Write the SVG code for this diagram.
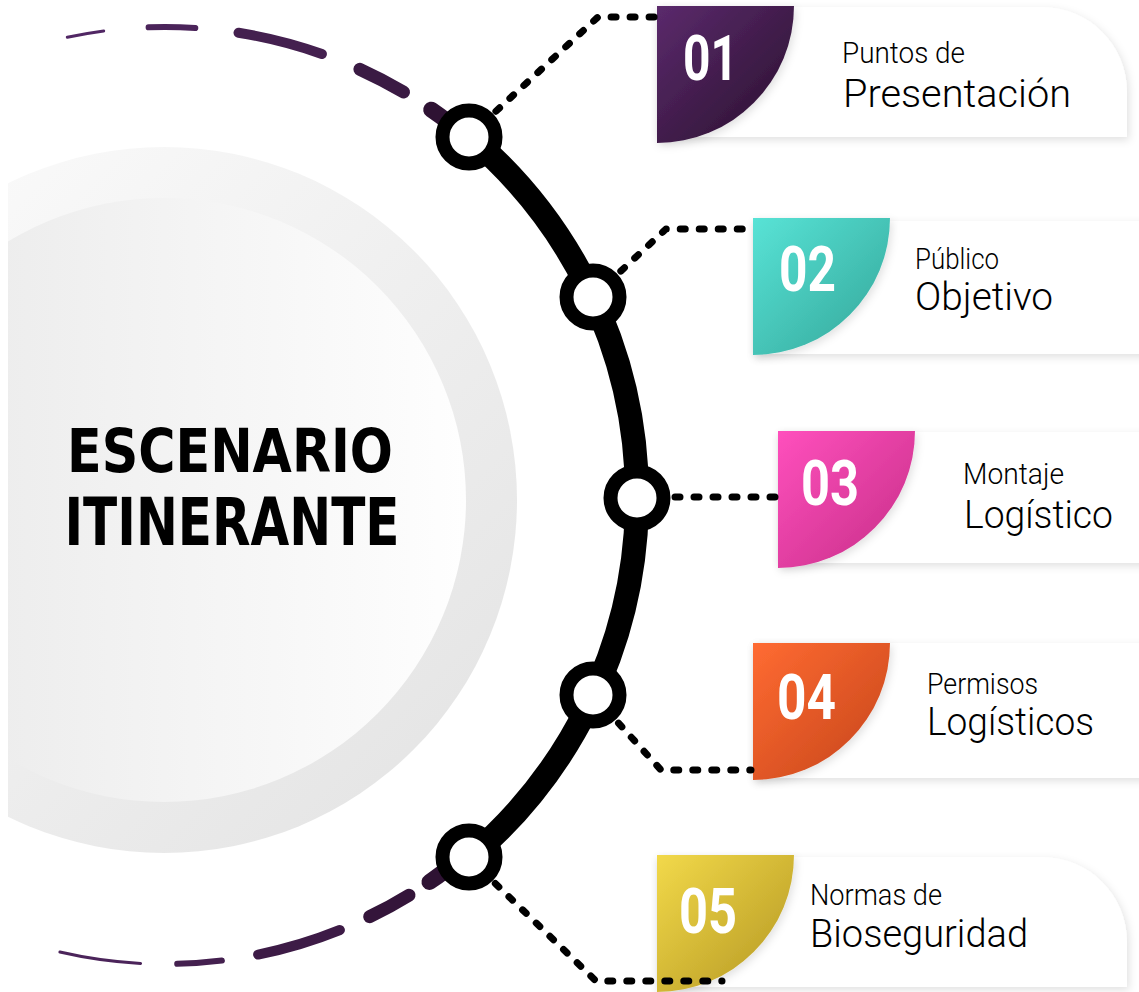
<svg xmlns="http://www.w3.org/2000/svg" width="1139" height="992" viewBox="0 0 1139 992">
<style>
.dash{fill:none;stroke-linecap:round}
.conn{fill:none;stroke:#000;stroke-width:7;stroke-dasharray:5 14;stroke-linecap:round;stroke-linejoin:round}
.node{fill:#fff;stroke:#000;stroke-width:14}
.num{font-family:Roboto,"Liberation Sans",sans-serif;font-weight:bold;font-size:63px;fill:#fff}
.sm{font-family:Roboto,"Liberation Sans",sans-serif;font-weight:300;font-size:29px;fill:#000}
.lg{font-family:Roboto,"Liberation Sans",sans-serif;font-weight:300;font-size:39px;fill:#000}
.title{font-family:"DejaVu Sans",sans-serif;font-weight:bold;fill:#000}
.panel{fill:#fff;filter:url(#sh)}
</style>
<defs>
<filter id="sh" x="-10%" y="-20%" width="120%" height="150%">
<feDropShadow dx="2" dy="3" stdDeviation="4" flood-color="#000" flood-opacity="0.12"/>
</filter>
<linearGradient id="gOuter" x1="0" y1="0" x2="1" y2="1"><stop offset="0" stop-color="#fdfdfd"/><stop offset="1" stop-color="#e2e2e2"/></linearGradient>
<linearGradient id="gInner" x1="0" y1="0" x2="1" y2="0"><stop offset="0" stop-color="#e8e8e8"/><stop offset="1" stop-color="#fefefe"/></linearGradient>
<linearGradient id="g1" x1="0" y1="0" x2="1" y2="1"><stop offset="0" stop-color="#5b2a6c"/><stop offset="1" stop-color="#28102c"/></linearGradient>
<linearGradient id="g2" x1="0" y1="0" x2="1" y2="1"><stop offset="0" stop-color="#58e3d6"/><stop offset="1" stop-color="#33a598"/></linearGradient>
<linearGradient id="g3" x1="0" y1="0" x2="1" y2="1"><stop offset="0" stop-color="#ff50bd"/><stop offset="1" stop-color="#c52d86"/></linearGradient>
<linearGradient id="g4" x1="0" y1="0" x2="1" y2="1"><stop offset="0" stop-color="#ff6b32"/><stop offset="1" stop-color="#c4441a"/></linearGradient>
<linearGradient id="g5" x1="0" y1="0" x2="1" y2="1"><stop offset="0" stop-color="#f2d94a"/><stop offset="1" stop-color="#b39621"/></linearGradient>
<clipPath id="clipL"><rect x="8" y="0" width="1131" height="992"/></clipPath>
</defs>

<g id="background" clip-path="url(#clipL)">
<circle cx="164" cy="500" r="353" fill="url(#gOuter)"/>
<circle cx="164" cy="500" r="302" fill="url(#gInner)"/>
</g>

<g id="title">
<text class="title" x="230" y="472" font-size="61" text-anchor="middle" textLength="326" lengthAdjust="spacingAndGlyphs">ESCENARIO</text>
<text class="title" x="232" y="545" font-size="66" text-anchor="middle" textLength="335" lengthAdjust="spacingAndGlyphs">ITINERANTE</text>
</g>

<g id="arc-dashes">
<path class="dash" d="M67.3 37.3 A470 470 0 0 1 103.7 31" stroke="#512764" stroke-width="3"/>
<path class="dash" d="M148.6 27.3 A470 470 0 0 1 195.3 28" stroke="#4b245a" stroke-width="6"/>
<path class="dash" d="M238.5 32.8 A470 470 0 0 1 321.9 54" stroke="#44204f" stroke-width="10"/>
<path class="dash" d="M359.9 69.3 A470 470 0 0 1 403.5 92" stroke="#3a1a43" stroke-width="13"/>
<path class="dash" d="M431.2 109.7 A470 470 0 0 1 447.8 121.7" stroke="#2e1233" stroke-width="16"/>
<path class="dash" d="M446.1 870 A467 467 0 0 1 429.5 882" stroke="#2e1233" stroke-width="16"/>
<path class="dash" d="M409 895.2 A467 467 0 0 1 369.7 916.7" stroke="#34153a" stroke-width="13"/>
<path class="dash" d="M339.9 930 A467 467 0 0 1 258.1 954.6" stroke="#3d1b46" stroke-width="10"/>
<path class="dash" d="M221.9 960.5 A467 467 0 0 1 177.2 963.8" stroke="#44204f" stroke-width="6"/>
<path class="dash" d="M140.6 963.4 A467 467 0 0 1 59.9 952" stroke="#4b245a" stroke-width="3"/>
</g>

<g id="spine">
<path d="M468.4 135.4 A472 472 0 0 1 468.4 858.6" fill="none" stroke="#000" stroke-width="24"/>
</g>

<g id="card1">
<path class="panel" d="M657 7 H1042 A85 85 0 0 1 1127 92 V137 H657 Z"/>
<path d="M657 6 H794 A137 137 0 0 1 657 143 Z" fill="url(#g1)" filter="url(#sh)"/>
<text class="num" x="683" y="80" textLength="55" lengthAdjust="spacingAndGlyphs">01</text>
<text class="sm" x="842" y="63" textLength="123" lengthAdjust="spacingAndGlyphs">Puntos de</text>
<text class="lg" x="843" y="107" textLength="228" lengthAdjust="spacingAndGlyphs">Presentación</text>
</g>

<g id="card2">
<rect class="panel" x="753" y="221" width="400" height="133"/>
<path d="M753 218 H890 A137 137 0 0 1 753 355 Z" fill="url(#g2)" filter="url(#sh)"/>
<text class="num" x="779" y="291" textLength="57" lengthAdjust="spacingAndGlyphs">02</text>
<text class="sm" x="915" y="269" textLength="84" lengthAdjust="spacingAndGlyphs">Público</text>
<text class="lg" x="915" y="310" textLength="138" lengthAdjust="spacingAndGlyphs">Objetivo</text>
</g>

<g id="card3">
<rect class="panel" x="778" y="432" width="380" height="131"/>
<path d="M778 431 H915 A137 137 0 0 1 778 568 Z" fill="url(#g3)" filter="url(#sh)"/>
<text class="num" x="801" y="505" textLength="58" lengthAdjust="spacingAndGlyphs">03</text>
<text class="sm" x="963" y="484" textLength="101" lengthAdjust="spacingAndGlyphs">Montaje</text>
<text class="lg" x="964" y="528" textLength="149" lengthAdjust="spacingAndGlyphs">Logístico</text>
</g>

<g id="card4">
<rect class="panel" x="753" y="643" width="400" height="135"/>
<path d="M753 643 H890 A137 137 0 0 1 753 780 Z" fill="url(#g4)" filter="url(#sh)"/>
<text class="num" x="777" y="719" textLength="59" lengthAdjust="spacingAndGlyphs">04</text>
<text class="sm" x="927" y="694" textLength="111" lengthAdjust="spacingAndGlyphs">Permisos</text>
<text class="lg" x="927" y="735" textLength="167" lengthAdjust="spacingAndGlyphs">Logísticos</text>
</g>

<g id="card5">
<path class="panel" d="M657 857 H1042 A85 85 0 0 1 1127 942 V987 H657 Z"/>
<path d="M657 855 H794 A137 137 0 0 1 657 992 Z" fill="url(#g5)" filter="url(#sh)"/>
<text class="num" x="679" y="933" textLength="58" lengthAdjust="spacingAndGlyphs">05</text>
<text class="sm" x="810" y="905" textLength="132" lengthAdjust="spacingAndGlyphs">Normas de</text>
<text class="lg" x="810" y="947" textLength="218" lengthAdjust="spacingAndGlyphs">Bioseguridad</text>
</g>

<g id="connectors">
<path class="conn" d="M468 137 L598 17 L655 17"/>
<path class="conn" d="M593 297 L666 229 L751 229"/>
<path class="conn" d="M637 497 L776 497"/>
<path class="conn" d="M593 695 L661 770 L751 770"/>
<path class="conn" d="M468 857 L596 981 L722 981"/>
</g>

<g id="nodes">
<circle id="node1" class="node" cx="469" cy="137" r="26.5"/>
<circle id="node2" class="node" cx="593" cy="297" r="26.5"/>
<circle id="node3" class="node" cx="637" cy="498" r="26.5"/>
<circle id="node4" class="node" cx="593" cy="695" r="26.5"/>
<circle id="node5" class="node" cx="469" cy="857" r="26.5"/>
</g>
</svg>
